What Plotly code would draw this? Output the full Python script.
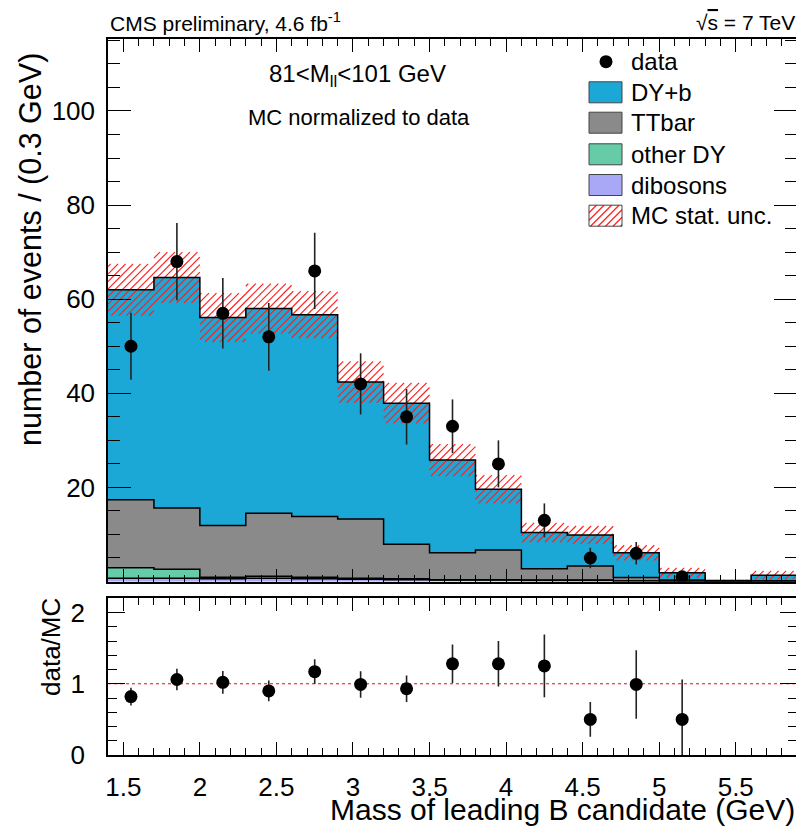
import plotly.graph_objects as go
import math

# ---------------- data ----------------
bin_centers = [1.55, 1.85, 2.15, 2.45, 2.75, 3.05, 3.35, 3.65, 3.95, 4.25, 4.55, 4.85, 5.15, 5.45, 5.75]
bin_width = 0.3
dy_b     = [44.6, 49.0, 44.2, 43.5, 42.9, 29.1, 30.0, 19.7, 12.9, 7.7, 6.6, 5.25, 1.55, 0.2, 1.2]
ttbar    = [14.5, 13.0, 11.0, 13.4, 12.9, 12.6, 7.3, 5.7, 6.3, 2.4, 3.0, 0.75, 0.25, 0.0, 0.1]
other_dy = [2.2, 1.9, 0.3, 0.4, 0.3, 0.2, 0.2, 0.1, 0.1, 0.1, 0.1, 0.0, 0.0, 0.0, 0.0]
dibosons = [0.7, 0.7, 0.6, 0.7, 0.6, 0.5, 0.4, 0.3, 0.3, 0.2, 0.2, 0.1, 0.05, 0.0, 0.05]
mc_unc   = [5.5, 5.4, 5.2, 5.3, 5.0, 4.4, 4.3, 3.4, 3.0, 2.05, 1.9, 1.6, 1.05, 0.15, 0.9]

data_x   = [1.55, 1.85, 2.15, 2.45, 2.75, 3.05, 3.35, 3.65, 3.95, 4.25, 4.55, 4.85, 5.15]
data_y   = [50, 68, 57, 52, 66, 42, 35, 33, 25, 13, 5, 6, 1]
data_err = [7.1, 8.2, 7.5, 7.2, 8.1, 6.5, 5.9, 5.7, 5.0, 3.6, 2.2, 2.4, 1.0]

ratio_y   = [0.82, 1.06, 1.02, 0.90, 1.17, 0.99, 0.93, 1.28, 1.28, 1.25, 0.50, 0.99, 0.50]
ratio_err = [0.125, 0.15, 0.16, 0.145, 0.175, 0.185, 0.185, 0.27, 0.32, 0.44, 0.245, 0.48, 0.56]

y_ticks_main = [20, 40, 60, 80, 100]
y_ticks_ratio = [0, 1, 2]
x_ticks = [1.5, 2, 2.5, 3, 3.5, 4, 4.5, 5, 5.5]

components = [
    ("dibosons", dibosons, "#A8A8F6"),
    ("other DY", other_dy, "#66CCA8"),
    ("TTbar", ttbar, "#8A8A8A"),
    ("DY+b", dy_b, "#1BA8D6"),
]

FONT = "Liberation Sans, Arial, Helvetica, sans-serif"
HATCH = "#FF2020"

# geometry of the plot area (pixels), used for the hatch angle and the hand-made legend
PLOT_W, PLOT_H = 689.0, 716.0
MAIN_DOMAIN = [0.2423, 1.0]
RATIO_DOMAIN = [0.0, 0.2189]
Y_MAX = 115.3

# ---------------- figure ----------------
fig = go.Figure()

edges = [c - bin_width / 2 for c in bin_centers] + [bin_centers[-1] + bin_width / 2]
x_lo, x_hi = edges[0], edges[-1]

base = [0.0] * len(bin_centers)
levels = []
for name, vals, col in components:
    fig.add_trace(go.Bar(x=bin_centers, y=vals, base=base[:], width=bin_width,
                         marker=dict(color=col, line=dict(width=0)),
                         name=name, showlegend=False, xaxis="x", yaxis="y"))
    base = [b + v for b, v in zip(base, vals)]
    levels.append(base[:])
total = base

# MC stat. uncertainty band: 45-degree hatching inside [total-unc, total+unc] of each bin
sx = PLOT_W / (x_hi - x_lo)                                   # px per GeV
sy = PLOT_H * (MAIN_DOMAIN[1] - MAIN_DOMAIN[0]) / Y_MAX       # px per event
spacing = 7.5
hx, hy = [], []
for c, t, u in zip(bin_centers, total, mc_unc):
    if u <= 0:
        continue
    u0, u1 = (c - bin_width / 2 - x_lo) * sx, (c + bin_width / 2 - x_lo) * sx
    v0, v1 = max(t - u, 0) * sy, (t + u) * sy
    k = math.floor((v0 - u1) / spacing) * spacing
    while k <= v1 - u0:
        a = max(u0, v0 - k)
        b = min(u1, v1 - k)
        if b > a:
            hx += [x_lo + a / sx, x_lo + b / sx, None]
            hy += [(a + k) / sy, (b + k) / sy, None]
        k += spacing
fig.add_trace(go.Scatter(x=hx, y=hy, mode="lines", line=dict(color=HATCH, width=1.2),
                         showlegend=False, hoverinfo="skip", xaxis="x", yaxis="y"))

# step outlines of each stacked level
for lev in levels:
    fig.add_trace(go.Scatter(x=edges, y=lev + [lev[-1]], mode="lines",
                             line=dict(color="black", width=1.5, shape="hv"),
                             showlegend=False, hoverinfo="skip", xaxis="x", yaxis="y"))

# data points
fig.add_trace(go.Scatter(x=data_x, y=data_y, mode="markers",
                         marker=dict(color="black", size=13),
                         error_y=dict(type="data", array=data_err, color="#222222",
                                      thickness=1.6, width=0),
                         showlegend=False, xaxis="x", yaxis="y"))

# ratio
fig.add_trace(go.Scatter(x=data_x, y=ratio_y, mode="markers",
                         marker=dict(color="black", size=13),
                         error_y=dict(type="data", array=ratio_err, color="#222222",
                                      thickness=1.6, width=0),
                         showlegend=False, xaxis="x2", yaxis="y2"))

fig.add_shape(type="line", xref="x2", yref="y2", x0=x_lo, x1=x_hi, y0=1, y1=1,
              line=dict(color="red", width=1, dash="dot"), layer="below")

# ---------------- axes ----------------
common_x = dict(range=[x_lo, x_hi], showline=True, linecolor="black", linewidth=1.5,
                mirror="allticks", ticks="inside", tickcolor="black", tickwidth=1.2,
                showgrid=False, zeroline=False, tickvals=x_ticks, automargin=False,
                minor=dict(dtick=0.1, ticks="inside", ticklen=7, tickcolor="black", tickwidth=1.2))
# the page body adds an 8px offset, so the figure is 8px smaller than the window
fig.update_layout(
    xaxis=dict(common_x, anchor="y", domain=[0, 1], showticklabels=False, ticklen=13,
               matches="x2"),
    yaxis=dict(domain=MAIN_DOMAIN, range=[0, Y_MAX], showline=True, linecolor="black",
               linewidth=1.5, mirror="allticks", ticks="inside", ticklen=23, tickwidth=1.2,
               tickcolor="black", tickvals=y_ticks_main, showgrid=False, zeroline=False,
               tickfont=dict(size=26, family=FONT, color="black"), ticklabelstandoff=6,
               minor=dict(dtick=5, ticks="inside", ticklen=12, tickcolor="black", tickwidth=1.2),
               anchor="x", automargin=False),
    xaxis2=dict(common_x, anchor="y2", domain=[0, 1], ticklen=13,
                tickfont=dict(size=26, family=FONT, color="black"), ticklabelstandoff=8),
    yaxis2=dict(domain=RATIO_DOMAIN, range=[0, 2.2], showline=True, linecolor="black",
                linewidth=1.5, mirror="allticks", ticks="inside", ticklen=17, tickwidth=1.2,
                tickcolor="black", tickvals=y_ticks_ratio, showgrid=False, zeroline=False,
                tickfont=dict(size=26, family=FONT, color="black"), ticklabelstandoff=16,
                minor=dict(dtick=0.2, ticks="inside", ticklen=9, tickcolor="black", tickwidth=1.2),
                anchor="x2", automargin=False),
    barmode="overlay",
    bargap=0,
    width=796, height=820,
    margin=dict(l=100, r=7, t=31, b=73, autoexpand=False),
    paper_bgcolor="white", plot_bgcolor="white",
    font=dict(family=FONT, color="black"),
    showlegend=False,
)


def px(x):
    return (x - 108) / PLOT_W


def py(y):
    return (755 - y) / PLOT_H


ann = []
ann.append(dict(text="number of events / (0.3 GeV)", x=px(31), y=py(250), textangle=-90,
                font=dict(size=30.5)))
ann.append(dict(text="data/MC", x=px(51), y=py(647), textangle=-90, font=dict(size=26)))
ann.append(dict(text="Mass of leading B candidate (GeV)", x=1.0, y=py(809), xanchor="right",
                font=dict(size=30)))
ann.append(dict(text="CMS preliminary, 4.6 fb<sup>-1</sup>", x=0.0, y=py(22), xanchor="left",
                font=dict(size=21)))
ann.append(dict(text="√<span style='text-decoration:overline'>s</span> = 7 TeV", x=1.0, y=py(22),
                xanchor="right", font=dict(size=21)))
ann.append(dict(text="81&lt;M<sub>ll</sub>&lt;101 GeV", x=px(357), y=py(75), font=dict(size=24)))
ann.append(dict(text="MC normalized to data", x=px(359), y=py(118), font=dict(size=22)))

# ---------------- legend (drawn by hand, ROOT style) ----------------
legend_rows = [
    ("data", None, 61.7),
    ("DY+b", "#1BA8D6", 92.3),
    ("TTbar", "#8A8A8A", 122.7),
    ("other DY", "#66CCA8", 154.3),
    ("dibosons", "#A8A8F6", 185.0),
    ("MC stat. unc.", "hatch", 215.7),
]
bx0, bx1 = 589, 622
bh = 21
shapes = []
for label, col, yc in legend_rows:
    ann.append(dict(text=label, x=px(629), y=py(yc), xanchor="left", font=dict(size=24)))
    if col is None:
        r = 6.5
        shapes.append(dict(type="circle", xref="paper", yref="paper",
                           x0=px(606 - r), x1=px(606 + r), y0=py(yc + r), y1=py(yc - r),
                           fillcolor="black", line=dict(width=0)))
    elif col == "hatch":
        y_top, y_bot = yc - bh / 2, yc + bh / 2
        step = 7.5
        c = bx0 - bh
        while c < bx1:
            xa, ya = c, y_bot
            xb, yb = c + bh, y_top
            if xa < bx0:
                ya = y_bot - (bx0 - xa)
                xa = bx0
            if xb > bx1:
                yb = y_top + (xb - bx1)
                xb = bx1
            if xb > xa:
                shapes.append(dict(type="line", xref="paper", yref="paper",
                                   x0=px(xa), y0=py(ya), x1=px(xb), y1=py(yb),
                                   line=dict(color=HATCH, width=1.3)))
            c += step
        shapes.append(dict(type="rect", xref="paper", yref="paper",
                           x0=px(bx0), x1=px(bx1), y0=py(y_bot), y1=py(y_top),
                           fillcolor="rgba(0,0,0,0)", line=dict(color="#444444", width=1)))
    else:
        shapes.append(dict(type="rect", xref="paper", yref="paper",
                           x0=px(bx0), x1=px(bx1), y0=py(yc + bh / 2), y1=py(yc - bh / 2),
                           fillcolor=col, line=dict(color="#444444", width=1)))

for a in ann:
    a.setdefault("xref", "paper")
    a.setdefault("yref", "paper")
    a.setdefault("showarrow", False)
    a.setdefault("xanchor", "center")
    a.setdefault("yanchor", "middle")
    a["font"] = dict(a["font"], family=FONT, color="black")
    fig.add_annotation(**a)

for s in shapes:
    fig.add_shape(**s)

fig.write_html("out.html")
